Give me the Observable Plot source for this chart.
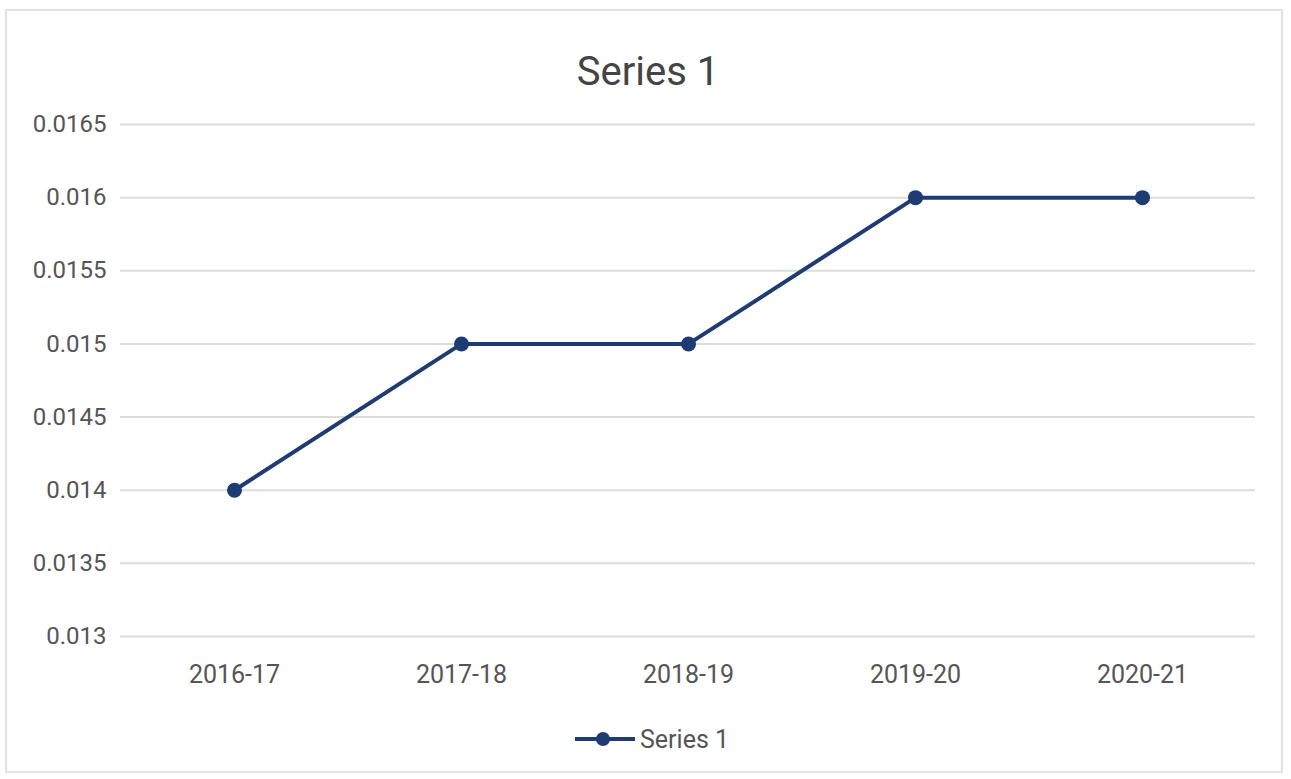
<!DOCTYPE html>
<html><head><meta charset="utf-8">
<script src="https://cdn.jsdelivr.net/npm/d3@7"></script>
<script src="https://cdn.jsdelivr.net/npm/@observablehq/plot@0.6"></script>
<style>
body{margin:0;background:#fff;font-family:Roboto,"Open Sans",sans-serif;}
#frame{position:absolute;left:5px;top:9px;width:1278px;height:764px;border:2px solid #e2e2e2;box-sizing:border-box;}
#title{position:absolute;left:0;width:1296px;top:52px;line-height:40px;text-align:center;font-size:40px;color:#444;}
#chart{position:absolute;left:0;top:0;}
#legend{position:absolute;top:724px;left:573px;height:30px;display:flex;align-items:center;font-size:25px;color:#555;}
</style></head>
<body>
<div id="frame"></div>
<div id="title">Series 1</div>
<div id="chart"></div>
<div id="legend"><svg width="64" height="20"><line x1="2" y1="10" x2="62" y2="10" stroke="#1f3b73" stroke-width="4"/><circle cx="30" cy="10" r="7" fill="#1f3b73"/></svg><span style="margin-left:3px">Series 1</span></div>
<script>
const years = ["2016-17","2017-18","2018-19","2019-20","2020-21"];
const values = [0.014, 0.015, 0.015, 0.016, 0.016];
const yTicks = [0.013,0.0135,0.014,0.0145,0.015,0.0155,0.016,0.0165];
const data = years.map((y,i)=>({year:y,value:values[i]}));
const color = "#1f3b73";
const chart = Plot.plot({
  width:1291, height:700,
  marginTop:124, marginBottom:64, marginLeft:120, marginRight:36,
  style:{fontFamily:"Roboto, sans-serif", fontSize:"24px", color:"#555", background:"transparent"},
  x:{type:"point", domain:years, padding:0.5, label:null},
  y:{domain:[0.013,0.0165], label:null},
  marks:[
    Plot.ruleY(yTicks,{stroke:"#dcdcdc",strokeWidth:2}),
    Plot.axisY({ticks:yTicks, tickSize:0, tickPadding:14, tickFormat:d=>String(+d.toFixed(4)), fontSize:24}),
    Plot.axisX({tickSize:0, tickPadding:29, fontSize:25}),
    Plot.line(data,{x:"year",y:"value",stroke:color,strokeWidth:4}),
    Plot.dot(data,{x:"year",y:"value",r:7.5,fill:color})
  ]
});
document.getElementById("chart").appendChild(chart);
</script>
</body></html>
